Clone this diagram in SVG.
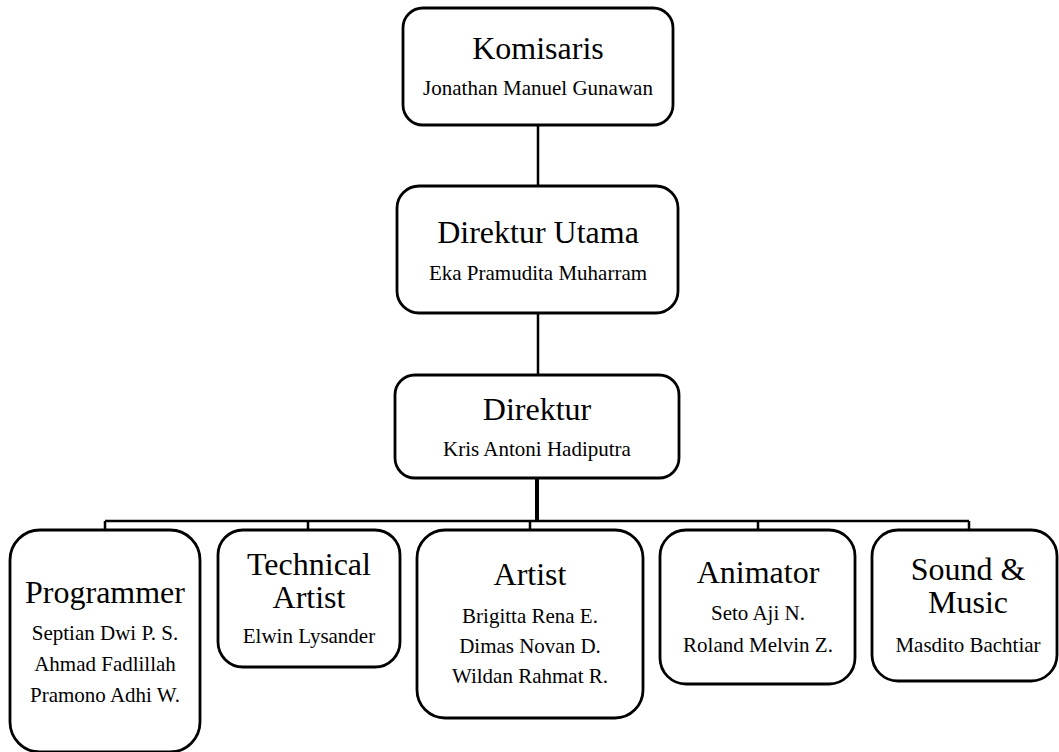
<svg xmlns="http://www.w3.org/2000/svg" width="1059" height="752" viewBox="0 0 1059 752">
<style>
.box{fill:#fff;stroke:#000;stroke-width:2.8}
.ln{fill:none;stroke:#000;stroke-width:2.5}
text{font-family:"Liberation Serif","Times New Roman",serif;fill:#000;text-anchor:middle}
.t{font-size:32px}
.s{font-size:21px}
</style>
<rect width="1059" height="752" fill="#fff"/>
<g id="connectors">
<path class="ln" d="M538 125V186M538 313V375"/>
<path class="ln" d="M537 478V521" style="stroke-width:4"/>
<path class="ln" d="M105 521H969M105 521V530M308 521V530M530 521V530M758 521V530M969 521V530"/>
</g>
<g id="komisaris">
<rect class="box" x="403" y="8" width="270" height="117" rx="20"/>
<text class="t" x="538" y="59">Komisaris</text>
<text class="s" x="538" y="95">Jonathan Manuel Gunawan</text>
</g>
<g id="direktur-utama">
<rect class="box" x="397" y="186" width="281" height="127" rx="22"/>
<text class="t" x="538" y="243">Direktur Utama</text>
<text class="s" x="538" y="280">Eka Pramudita Muharram</text>
</g>
<g id="direktur">
<rect class="box" x="395" y="375" width="284" height="103" rx="20"/>
<text class="t" x="537" y="420">Direktur</text>
<text class="s" x="537" y="456">Kris Antoni Hadiputra</text>
</g>
<g id="programmer">
<rect class="box" x="10" y="530" width="190" height="222" rx="30"/>
<text class="t" x="105" y="603">Programmer</text>
<text class="s" x="105" y="640">Septian Dwi P. S.</text>
<text class="s" x="105" y="671">Ahmad Fadlillah</text>
<text class="s" x="105" y="702">Pramono Adhi W.</text>
</g>
<g id="technical-artist">
<rect class="box" x="218" y="530" width="182" height="137" rx="25"/>
<text class="t" x="309" y="575">Technical</text>
<text class="t" x="309" y="608">Artist</text>
<text class="s" x="309" y="643">Elwin Lysander</text>
</g>
<g id="artist">
<rect class="box" x="417" y="530" width="226" height="188" rx="28"/>
<text class="t" x="530" y="585">Artist</text>
<text class="s" x="530" y="623">Brigitta Rena E.</text>
<text class="s" x="530" y="653">Dimas Novan D.</text>
<text class="s" x="530" y="683">Wildan Rahmat R.</text>
</g>
<g id="animator">
<rect class="box" x="660" y="530" width="195" height="154" rx="26"/>
<text class="t" x="758" y="583">Animator</text>
<text class="s" x="758" y="620">Seto Aji N.</text>
<text class="s" x="758" y="652">Roland Melvin Z.</text>
</g>
<g id="sound-music">
<rect class="box" x="872" y="530" width="185" height="151" rx="26"/>
<text class="t" x="968" y="580">Sound &amp;</text>
<text class="t" x="968" y="613">Music</text>
<text class="s" x="968" y="652">Masdito Bachtiar</text>
</g>
</svg>
